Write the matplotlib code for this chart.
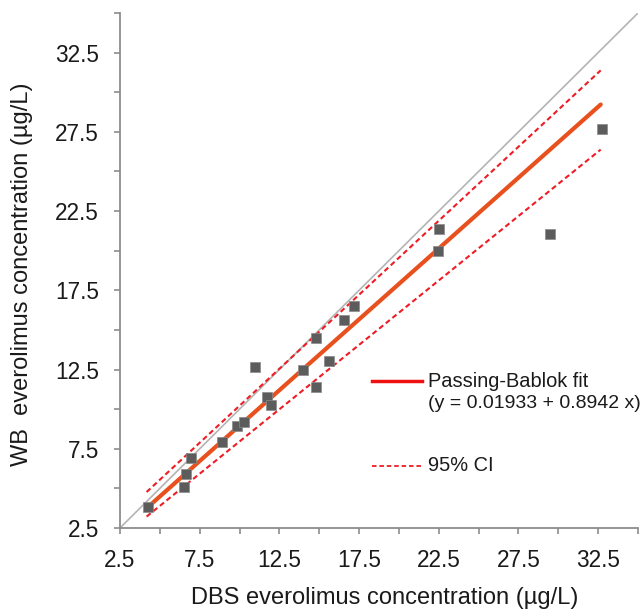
import matplotlib
matplotlib.use("Agg")
import matplotlib.pyplot as plt
import numpy as np

plt.rcParams['font.family'] = ['Liberation Sans', 'DejaVu Sans']

# Data (DBS vs WB everolimus concentrations, µg/L)
dbs = [4.28, 6.53, 6.66, 6.94, 8.90, 9.84, 10.30, 10.97, 11.70, 11.99,
       13.99, 14.78, 14.78, 15.61, 16.57, 17.16, 22.51, 22.43, 29.49, 32.72]
wb = [3.81, 5.07, 5.89, 6.90, 7.92, 8.91, 9.20, 12.65, 10.76, 10.24,
      12.44, 11.41, 14.46, 13.05, 15.60, 16.54, 21.35, 20.01, 21.08, 27.70]

fit_intercept = 0.01933
fit_slope = 0.8942
fit_x = [4.28, 32.66]

ci_x = [4.17, 32.66]
ci_upper = [4.77, 31.38]
ci_lower = [3.22, 26.38]

identity = [2.5, 35.0]

ticks = [2.5, 7.5, 12.5, 17.5, 22.5, 27.5, 32.5]
minor_ticks = [5.0, 10.0, 15.0, 20.0, 25.0, 30.0, 35.0]

fig = plt.figure(figsize=(6.44, 6.09), dpi=100)
ax = fig.add_axes([120/644, 1 - 528/609, 518/644, 515/609])

ax.plot(identity, identity, color='#b4b4b4', lw=1.2, zorder=1)
fx = np.array(fit_x)
ax.plot(fx, fit_intercept + fit_slope * fx, color='#e8501e', lw=3.0,
        solid_capstyle='round', zorder=3)
ax.plot(ci_x, ci_upper, color='#ee1c24', lw=1.5, ls=(0, (2.5, 1.6)), zorder=3)
ax.plot(ci_x, ci_lower, color='#ee1c24', lw=1.5, ls=(0, (2.5, 1.6)), zorder=3)
ax.scatter(dbs, wb, marker='s', s=48, color='#5c5c5c', edgecolors='#8a8a8a',
           linewidths=0.5, zorder=4)

ax.set_xlim(2.5, 35)
ax.set_ylim(2.5, 35)
ax.set_xticks(ticks)
ax.set_yticks(ticks)
ax.set_xticks(minor_ticks, minor=True)
ax.set_yticks(minor_ticks, minor=True)
ax.set_xticklabels([f"{t:.1f}" for t in ticks])
ax.set_yticklabels([f"{t:.1f}" for t in ticks])

for s in ['top', 'right']:
    ax.spines[s].set_visible(False)
for s in ['left', 'bottom']:
    ax.spines[s].set_color('#8c8c8c')
    ax.spines[s].set_linewidth(1.3)

ax.tick_params(which='both', direction='out', length=4, width=1.2,
               color='#8c8c8c', labelsize=16.3, labelcolor='#1a1a1a')
ax.tick_params(axis='x', which='both', pad=11)
ax.tick_params(axis='y', which='both', pad=11)

ax.set_xlabel('DBS everolimus concentration (\u00b5g/L)', fontsize=17,
              color='#1a1a1a')
ax.xaxis.set_label_coords(0.5116, -0.1476)
ax.xaxis.label.set_va('baseline')
ax.set_ylabel('WB  everolimus concentration (\u00b5g/L)', fontsize=17,
              color='#1a1a1a')
ax.yaxis.set_label_coords(-0.1895, 0.4932)
ax.yaxis.label.set_va('center')

# Legend (manual)
tr = ax.transAxes
ax.plot([0.4865, 0.583], [0.2854, 0.2854], color='#ee1111', lw=2.5,
        transform=tr, clip_on=False)
ax.text(0.5946, 0.2854, 'Passing-Bablok fit', transform=tr, fontsize=14.4,
        va='center', ha='left', color='#1a1a1a')
ax.text(0.5946, 0.2427, '(y = 0.01933 + 0.8942 x)', transform=tr, fontsize=14,
        va='center', ha='left', color='#1a1a1a')
ax.plot([0.4865, 0.583], [0.1204, 0.1204], color='#ee1c24', lw=1.3,
        ls=(0, (2.5, 1.6)), transform=tr, clip_on=False)
ax.text(0.5946, 0.1204, '95% CI', transform=tr, fontsize=14.4,
        va='center', ha='left', color='#1a1a1a')

fig.savefig('out.png', dpi=100)
